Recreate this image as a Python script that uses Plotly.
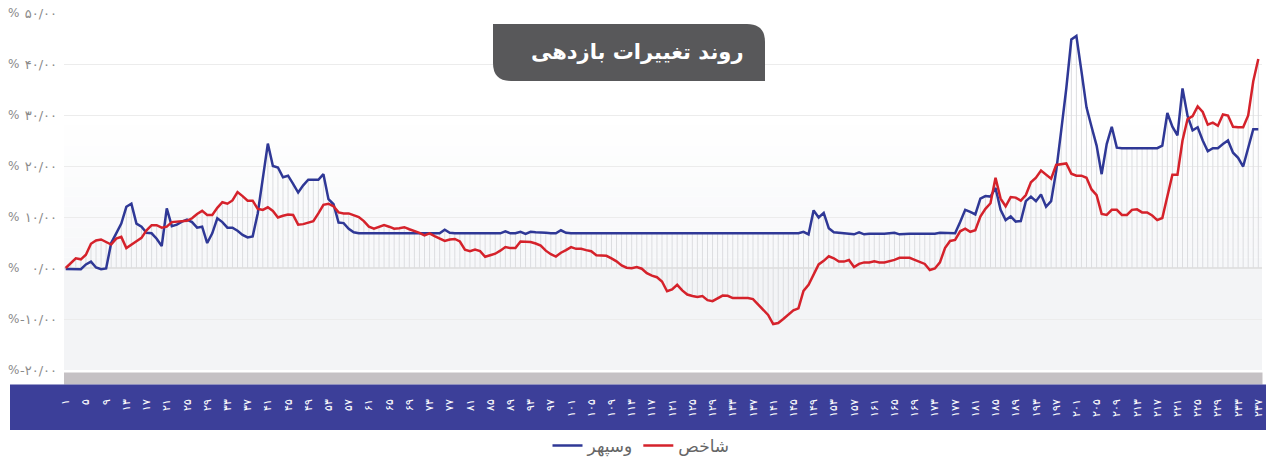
import plotly.graph_objects as go

# ---------------- data ----------------
idx = list(range(1, 238))

red = [
    0.0, 0.9, 1.9, 1.7, 2.6, 4.75, 5.4, 5.6, 5.1, 4.6,
    5.75, 6.1, 3.9, 4.5, 5.25, 5.9, 7.4, 8.4, 8.4, 7.9,
    8.1, 9.0, 9.1, 9.1, 9.25, 9.75, 10.6, 11.2, 10.4, 10.4,
    11.8, 12.9, 12.6, 13.25, 14.9, 14.1, 13.2, 13.2, 11.6, 11.4,
    11.9, 11.2, 9.9, 10.25, 10.5, 10.4, 8.5, 8.6, 8.9, 9.2,
    10.7, 12.4, 12.6, 12.1, 10.9, 10.7, 10.7, 10.4, 10.0, 9.2,
    8.1, 7.7, 8.0, 8.4, 8.1, 7.7, 7.8, 8.0, 7.6, 7.3,
    6.9, 6.4, 6.8, 6.25, 5.7, 5.3, 5.6, 5.7, 5.2, 3.6,
    3.3, 3.6, 3.3, 2.2, 2.5, 2.8, 3.4, 4.1, 3.9, 3.9,
    5.2, 5.1, 5.1, 4.8, 4.4, 3.4, 2.7, 2.25, 3.0, 3.5,
    4.1, 3.75, 3.75, 3.5, 3.3, 2.5, 2.5, 2.4, 1.9, 1.3,
    0.5, 0.06, -0.06, 0.2, -0.14, -1.0, -1.5, -1.8, -2.65, -4.55,
    -4.2, -3.3, -4.4, -5.2, -5.5, -5.7, -5.5, -6.3, -6.5, -5.9,
    -5.4, -5.45, -5.9, -5.9, -5.9, -5.9, -6.1, -7.1, -8.3, -9.2,
    -11.0, -10.8, -10.0, -9.2, -8.3, -7.9, -4.5, -3.3, -1.2, 0.7,
    1.4, 2.3, 1.9, 1.25, 1.25, 1.56, 0.2, 0.8, 1.1, 1.1,
    1.3, 1.1, 1.1, 1.3, 1.6, 2.0, 2.0, 2.0, 1.6, 1.25,
    0.8, -0.4, -0.1, 1.1, 3.9, 5.3, 5.5, 7.2, 7.7, 7.1,
    7.4, 10.1, 11.6, 12.7, 17.7, 13.6, 12.1, 13.9, 13.8, 13.2,
    14.3, 16.8, 17.7, 19.1, 18.2, 17.5, 20.2, 20.3, 20.5, 18.5,
    18.1, 18.1, 17.7, 15.4, 14.3, 10.6, 10.4, 11.4, 11.4, 10.4,
    10.4, 11.4, 11.5, 10.9, 10.9, 10.3, 9.4, 9.8, 14.0, 18.3,
    18.3, 25.0, 29.2, 29.8, 31.7, 30.6, 28.1, 28.5, 27.9, 30.1,
    29.9, 27.7, 27.6, 27.6, 29.9, 36.6, 41.0,
]

blue = [
    -0.2, -0.25, -0.25, -0.25, 0.7, 1.25, 0.1, -0.25, -0.1, 4.9,
    6.8, 8.7, 12.0, 12.6, 8.7, 8.1, 6.9, 6.8, 5.75, 4.3,
    11.7, 8.2, 8.5, 9.1, 9.5, 9.0, 7.9, 8.1, 4.9, 6.8,
    9.75, 9.0, 7.9, 7.9, 7.3, 6.5, 6.0, 6.2, 10.7, 17.5,
    24.4, 20.0, 19.7, 17.8, 18.1, 16.5, 14.8, 16.2, 17.3, 17.3,
    17.3, 18.4, 13.5, 12.5, 8.9, 8.8, 7.7, 7.0, 6.8, 6.8,
    6.8, 6.8, 6.8, 6.8, 6.8, 6.8, 6.8, 6.8, 6.8, 6.8,
    6.8, 6.8, 6.8, 6.8, 6.8, 7.5, 6.9, 6.8, 6.8, 6.8,
    6.8, 6.8, 6.8, 6.8, 6.8, 6.8, 6.8, 7.2, 6.8, 6.8,
    7.1, 6.7, 7.1, 7.0, 7.0, 6.9, 6.8, 6.8, 7.4, 6.9,
    6.8, 6.8, 6.8, 6.8, 6.9, 6.8, 6.8, 6.8, 6.8, 6.8,
    6.8, 6.8, 6.9, 6.8, 6.8, 6.8, 6.8, 6.8, 6.9, 6.8,
    6.9, 6.8, 6.8, 6.8, 6.9, 6.8, 6.8, 6.8, 6.8, 6.8,
    6.8, 6.8, 6.8, 6.8, 6.8, 6.8, 6.8, 6.8, 6.8, 6.8,
    6.8, 6.8, 6.8, 6.8, 6.8, 6.8, 7.1, 6.6, 11.3, 9.9,
    10.8, 7.8, 7.0, 6.9, 6.9, 6.8, 6.6, 7.0, 6.6, 6.7,
    6.7, 6.6, 6.7, 6.8, 6.9, 6.6, 6.7, 6.7, 6.7, 6.7,
    6.7, 6.7, 6.7, 6.9, 6.9, 6.9, 6.8, 9.0, 11.4, 11.0,
    10.5, 13.6, 14.1, 14.0, 15.7, 11.4, 9.4, 10.1, 9.1, 9.2,
    13.1, 14.0, 13.1, 14.4, 12.0, 13.1, 19.0, 27.0, 35.2, 44.8,
    45.5, 38.6, 31.5, 27.7, 24.0, 18.4, 24.3, 27.7, 23.6, 23.5,
    23.5, 23.5, 23.5, 23.5, 23.5, 23.5, 23.5, 24.0, 30.4, 27.7,
    26.0, 35.2, 29.8, 27.0, 27.6, 25.0, 22.9, 23.5, 23.5, 24.3,
    25.0, 22.6, 21.6, 19.9, 23.6, 27.2, 27.2,
]

name_blue = "وسپهر"
name_red = "شاخص"
title_text = "روند تغییرات بازدهی"

y_tick_vals = [50, 40, 30, 20, 10, 0, -10, -20]
y_tick_text = ["۵۰/۰۰", "۴۰/۰۰", "۳۰/۰۰", "۲۰/۰۰", "۱۰/۰۰", "۰/۰۰", "-۱۰/۰۰", "-۲۰/۰۰"]

x_tick_vals = list(range(1, 238, 4))
_fa = str.maketrans("0123456789", "۰۱۲۳۴۵۶۷۸۹")
x_tick_text = [str(v).translate(_fa) for v in x_tick_vals]

# ---------------- figure ----------------
# the page body margin is removed (post_script), so the figure sits at (0, 0)
W, H = 1266, 457
# plot area in page pixels: x 64..1262, y 13..370
ML, MR, MT, MB = 64, W - 1262, 13, H - 370
PW, PH = W - ML - MR, H - MT - MB
FONT = "DejaVu Sans"


def px_x(px):
    """page pixel x -> paper coordinate"""
    return (px - ML) / PW


def px_y(py):
    """page pixel y -> paper coordinate"""
    return (H - MB - py) / PH


fig = go.Figure()

# vertical hatch lines from zero to the envelope of both series
hx, hy = [], []
for i, r, b in zip(idx, red, blue):
    lo = min(0, r, b)
    hi = max(0, r, b)
    hx += [i, i, None]
    hy += [lo, hi, None]
fig.add_trace(go.Scatter(x=hx, y=hy, mode="lines",
                         line=dict(color="#dcdde0", width=1),
                         hoverinfo="skip", showlegend=False))

fig.add_trace(go.Scatter(x=idx, y=blue, mode="lines", name=name_blue,
                         line=dict(color="#2f3896", width=2.5)))
fig.add_trace(go.Scatter(x=idx, y=red, mode="lines", name=name_red,
                         line=dict(color="#d5222b", width=2.5)))

shapes = []
# background: below zero
shapes.append(dict(type="rect", xref="paper", yref="y", x0=0, x1=1, y0=-20, y1=0,
                   fillcolor="#f3f4f6", line=dict(width=0), layer="below"))
# background gradient 0 -> 30
n = 15
c0 = (246, 247, 249)
c1 = (255, 255, 255)
for k in range(n):
    t = (k + 0.5) / n
    col = tuple(round(c0[j] + (c1[j] - c0[j]) * t) for j in range(3))
    shapes.append(dict(type="rect", xref="paper", yref="y", x0=0, x1=1,
                       y0=30 * k / n, y1=30 * (k + 1) / n,
                       fillcolor="rgb(%d,%d,%d)" % col, line=dict(width=0),
                       layer="below"))
# grey bar under the plot
shapes.append(dict(type="rect", xref="paper", yref="paper",
                   x0=0, x1=px_x(1262.5), y0=px_y(384.5), y1=px_y(372.5),
                   fillcolor="#c5c1c4", line=dict(width=0), layer="below"))
# dark blue band for x labels
shapes.append(dict(type="rect", xref="paper", yref="paper",
                   x0=px_x(10), x1=px_x(1266), y0=px_y(430), y1=px_y(384.5),
                   fillcolor="#3c3f99", line=dict(width=0), layer="below"))
# title box (square top-left / bottom-right, rounded top-right / bottom-left)
bx0, bx1 = px_x(493), px_x(765)
by0, by1 = px_y(81), px_y(24)
rx, ry = 18 / PW, 18 / PH
path = (f"M {bx0},{by1} L {bx1 - rx},{by1} Q {bx1},{by1} {bx1},{by1 - ry} "
        f"L {bx1},{by0} L {bx0 + rx},{by0} Q {bx0},{by0} {bx0},{by0 + ry} Z")
shapes.append(dict(type="path", xref="paper", yref="paper", path=path,
                   fillcolor="#58585a", line=dict(width=0), layer="above"))

annotations = [dict(x=px_x(637), y=px_y(52), xref="paper", yref="paper",
                    text="<b>" + title_text + "</b>", showarrow=False,
                    yanchor="middle",
                    font=dict(family=FONT, size=21, color="#ffffff"))]
for v in y_tick_vals:
    annotations.append(dict(x=px_x(13.5), y=v, xref="paper", yref="y", text="%",
                            showarrow=False, xanchor="center",
                            font=dict(family=FONT, size=12, color="#8a8a8a")))

fig.update_layout(
    width=W, height=H, autosize=False,
    margin=dict(l=ML, r=MR, t=MT, b=MB, pad=0, autoexpand=False),
    paper_bgcolor="#ffffff", plot_bgcolor="rgba(0,0,0,0)",
    font=dict(family=FONT),
    shapes=shapes, annotations=annotations,
    showlegend=True,
    legend=dict(orientation="h", x=px_x(641), xanchor="center",
                y=px_y(446), yanchor="middle",
                font=dict(family=FONT, size=17, color="#666666"),
                bgcolor="rgba(0,0,0,0)", itemwidth=30),
    xaxis=dict(range=[0.664, 237.73], tickmode="array", tickvals=x_tick_vals,
               ticktext=x_tick_text, tickangle=-90, showgrid=False,
               zeroline=False, showline=False, ticks="",
               ticklabelstandoff=26, automargin=False,
               ticklabeloverflow="allow",
               tickfont=dict(family=FONT, size=11, color="#ffffff"),
               fixedrange=True),
    yaxis=dict(range=[-20, 50], tickmode="array", tickvals=y_tick_vals,
               ticktext=y_tick_text, showgrid=True, gridcolor="#ececec",
               gridwidth=1, zeroline=True, zerolinecolor="#e2e2e2",
               zerolinewidth=2, showline=False, ticks="",
               ticklabelstandoff=6, automargin=False,
               ticklabeloverflow="allow",
               tickfont=dict(family=FONT, size=13, color="#8a8a8a"),
               fixedrange=True),
)

fig.write_html("out.html",
               config={"displayModeBar": False},
               post_script="document.body.style.margin='0px';"
                           "document.documentElement.style.overflow='hidden';")
